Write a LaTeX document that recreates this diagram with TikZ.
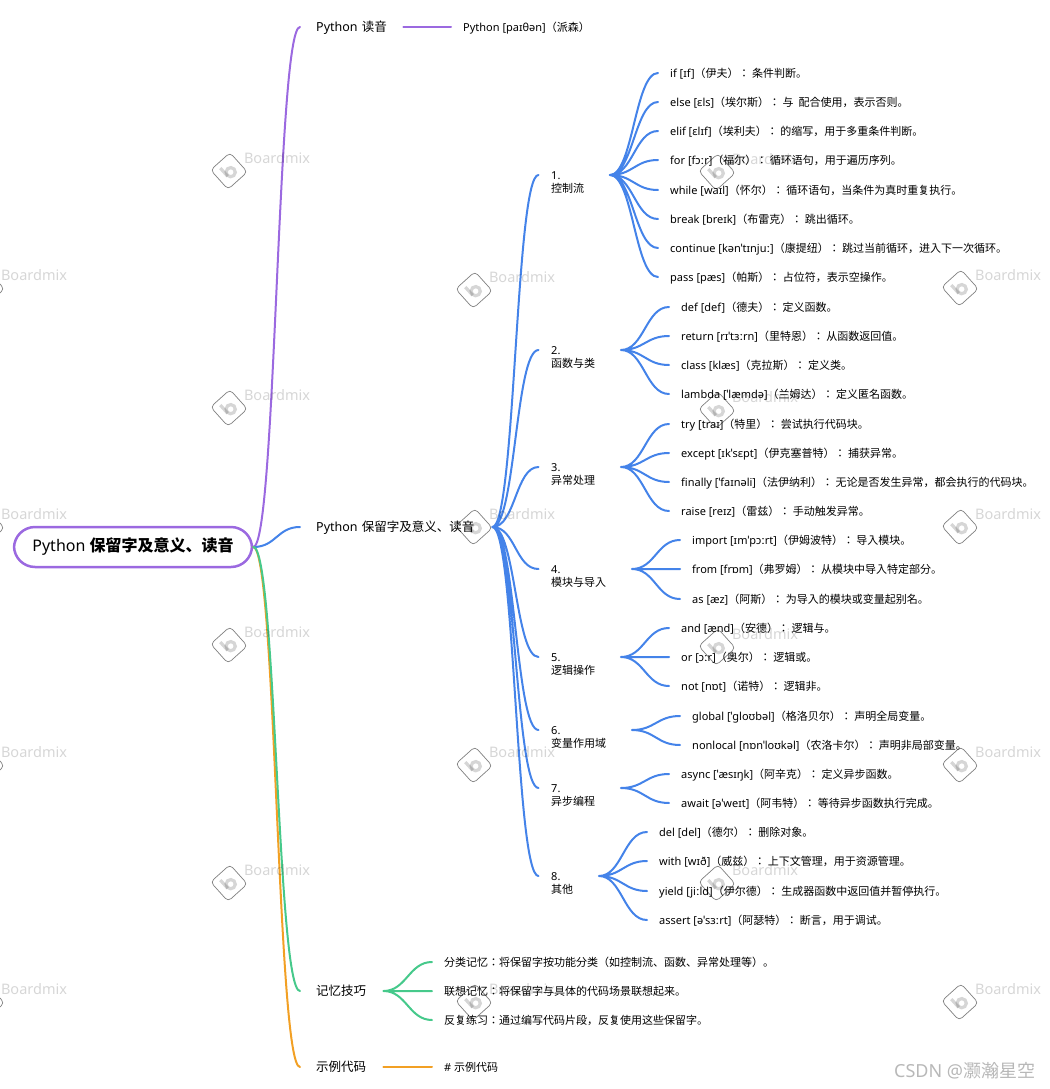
\documentclass[tikz,border=0pt]{standalone}
\usepackage{fontspec}
\setmainfont{Noto Sans}
\newfontfamily\cjk{Noto Sans CJK JP}
\newcommand{\zh}[1]{{\cjk #1}}
\definecolor{linkpurple}{HTML}{9B69E0}
\definecolor{linkblue}{HTML}{4483E9}
\definecolor{linkgreen}{HTML}{46C98B}
\definecolor{linkorange}{HTML}{F2A024}
\tikzset{
  link/.style={line width=2pt,line cap=round,to path={.. controls +(23pt,0) and +(-23pt,0) .. (\tikztotarget)}},
  purplelink/.style={link,draw=linkpurple},
  bluelink/.style={link,draw=linkblue},
  greenlink/.style={link,draw=linkgreen},
  orangelink/.style={link,draw=linkorange},
  topic/.style={anchor=west,inner xsep=16pt,inner ysep=0pt,text height=10.8pt,text depth=1.8pt,font=\fontsize{12.5pt}{15pt}\selectfont},
  group/.style={anchor=west,inner xsep=12.5pt,inner ysep=0pt,text height=10pt,text depth=1.6pt,font=\fontsize{11pt}{13pt}\selectfont},
  leaf/.style={anchor=west,inner xsep=12pt,inner ysep=0pt,text height=10pt,text depth=1.6pt,font=\fontsize{11pt}{13pt}\selectfont},
  wmark/.pic={
    \begin{scope}[rotate=42,opacity=.16]
      \draw[line width=.7pt,rounded corners=4pt,opacity=.5] (-13,-13) rectangle (13,13);
      \draw[line width=3.2pt] (-4.5,-8) -- (-4.5,3);
      \draw[line width=3.2pt] (.5,2) circle (4.6);
      \node[anchor=west,inner sep=0pt,font=\fontsize{14.5pt}{16pt}\selectfont] (-word) at (20,0) {Boardmix};
    \end{scope}
  }
}
\begin{document}
\begin{tikzpicture}[x=1pt,y=-1pt]
  \useasboundingbox (0,0) rectangle (1049,1089);

  \node[draw=linkpurple,line width=2.5pt,rounded corners=21pt,minimum width=238pt,minimum height=40pt,inner sep=0pt,font=\fontsize{16pt}{19pt}\selectfont\bfseries] (root) at (133,547) {Python \zh{保留字及意义、读音}};

  \node[topic,text width=71pt] (reading) at (300,27) {Python \zh{读音}};
  \node[topic,text width=160pt] (keywords) at (300,527) {Python \zh{保留字及意义、读音}};
  \node[topic,text width=51pt] (memory) at (300,991) {\zh{记忆技巧}};
  \node[topic,text width=51pt] (sample) at (300,1067) {\zh{示例代码}};

  \node[leaf] (pyread) at (451,27) {Python [paɪθən]\zh{（派森）}};

  \node[group,text width=46pt] (flow) at (538.5,175) {1. \zh{控制流}};
  \node[group,text width=57pt] (funcs) at (538.5,350) {2. \zh{函数与类}};
  \node[group,text width=57pt] (errors) at (538.5,467) {3. \zh{异常处理}};
  \node[group,text width=68pt] (modules) at (538.5,569) {4. \zh{模块与导入}};
  \node[group,text width=57pt] (logic) at (538.5,657) {5. \zh{逻辑操作}};
  \node[group,text width=68pt] (scoping) at (538.5,730) {6. \zh{变量作用域}};
  \node[group,text width=57pt] (asyncs) at (538.5,788) {7. \zh{异步编程}};
  \node[group,text width=35pt] (others) at (538.5,876) {8. \zh{其他}};

  \node[leaf] (kwif) at (658,73) {if [ɪf]\zh{（伊夫）： 条件判断。}};
  \node[leaf] (kwelse) at (658,102) {else [ɛls]\zh{（埃尔斯）： 与\ \ 配合使用，表示否则。}};
  \node[leaf] (kwelif) at (658,131) {elif [ɛlɪf]\zh{（埃利夫）： 的缩写，用于多重条件判断。}};
  \node[leaf] (kwfor) at (658,160) {for [fɔːr]\zh{（福尔）： 循环语句，用于遍历序列。}};
  \node[leaf] (kwwhile) at (658,190) {while [waɪl]\zh{（怀尔）： 循环语句，当条件为真时重复执行。}};
  \node[leaf] (kwbreak) at (658,219) {break [breɪk]\zh{（布雷克）： 跳出循环。}};
  \node[leaf] (kwcontinue) at (658,248) {continue [kənˈtɪnjuː]\zh{（康提纽）： 跳过当前循环，进入下一次循环。}};
  \node[leaf] (kwpass) at (658,277) {pass [pæs]\zh{（帕斯）： 占位符，表示空操作。}};

  \node[leaf] (kwdef) at (669,307) {def [def]\zh{（德夫）： 定义函数。}};
  \node[leaf] (kwreturn) at (669,336) {return [rɪˈtɜːrn]\zh{（里特恩）： 从函数返回值。}};
  \node[leaf] (kwclass) at (669,365) {class [klæs]\zh{（克拉斯）： 定义类。}};
  \node[leaf] (kwlambda) at (669,394) {lambda [ˈlæmdə]\zh{（兰姆达）： 定义匿名函数。}};

  \node[leaf] (kwtry) at (669,424) {try [traɪ]\zh{（特里）： 尝试执行代码块。}};
  \node[leaf] (kwexcept) at (669,453) {except [ɪkˈsɛpt]\zh{（伊克塞普特）： 捕获异常。}};
  \node[leaf] (kwfinally) at (669,482) {finally [ˈfaɪnəli]\zh{（法伊纳利）： 无论是否发生异常，都会执行的代码块。}};
  \node[leaf] (kwraise) at (669,511) {raise [reɪz]\zh{（雷兹）： 手动触发异常。}};

  \node[leaf] (kwimport) at (680,540) {import [ɪmˈpɔːrt]\zh{（伊姆波特）： 导入模块。}};
  \node[leaf] (kwfrom) at (680,569) {from [frɒm]\zh{（弗罗姆）： 从模块中导入特定部分。}};
  \node[leaf] (kwas) at (680,599) {as [æz]\zh{（阿斯）： 为导入的模块或变量起别名。}};

  \node[leaf] (kwand) at (669,628) {and [ænd]\zh{（安德）： 逻辑与。}};
  \node[leaf] (kwor) at (669,657) {or [ɔːr]\zh{（奥尔）： 逻辑或。}};
  \node[leaf] (kwnot) at (669,686) {not [nɒt]\zh{（诺特）： 逻辑非。}};

  \node[leaf] (kwglobal) at (680,716) {global [ˈɡloʊbəl]\zh{（格洛贝尔）： 声明全局变量。}};
  \node[leaf] (kwnonlocal) at (680,745) {nonlocal [nɒnˈloʊkəl]\zh{（农洛卡尔）： 声明非局部变量。}};

  \node[leaf] (kwasync) at (669,774) {async [ˈæsɪŋk]\zh{（阿辛克）： 定义异步函数。}};
  \node[leaf] (kwawait) at (669,803) {await [əˈweɪt]\zh{（阿韦特）： 等待异步函数执行完成。}};

  \node[leaf] (kwdel) at (647,832) {del [del]\zh{（德尔）： 删除对象。}};
  \node[leaf] (kwwith) at (647,861) {with [wɪð]\zh{（威兹）： 上下文管理，用于资源管理。}};
  \node[leaf] (kwyield) at (647,891) {yield [jiːld]\zh{（伊尔德）： 生成器函数中返回值并暂停执行。}};
  \node[leaf] (kwassert) at (647,920) {assert [əˈsɜːrt]\zh{（阿瑟特）： 断言，用于调试。}};

  \node[leaf] (mem1) at (432,962) {\zh{分类记忆：将保留字按功能分类（如控制流、函数、异常处理等）。}};
  \node[leaf] (mem2) at (432,991) {\zh{联想记忆：将保留字与具体的代码场景联想起来。}};
  \node[leaf] (mem3) at (432,1020) {\zh{反复练习：通过编写代码片段，反复使用这些保留字。}};
  \node[leaf] (code) at (432,1067) {\# \zh{示例代码}};

  \draw[purplelink] (root.east) to (reading.west);
  \draw[purplelink] (reading.east) to (pyread.west);
  \draw[bluelink] (root.east) to (keywords.west);
  \draw[orangelink] (root.east) to (sample.west);
  \draw[greenlink] (root.east) to (memory.west);

  \draw[bluelink] (keywords.east) to (flow.west) (keywords.east) to (funcs.west) (keywords.east) to (errors.west) (keywords.east) to (modules.west);
  \draw[bluelink] (keywords.east) to (logic.west) (keywords.east) to (scoping.west) (keywords.east) to (asyncs.west) (keywords.east) to (others.west);

  \draw[bluelink] (flow.east) to (kwif.west) (flow.east) to (kwelse.west) (flow.east) to (kwelif.west) (flow.east) to (kwfor.west);
  \draw[bluelink] (flow.east) to (kwwhile.west) (flow.east) to (kwbreak.west) (flow.east) to (kwcontinue.west) (flow.east) to (kwpass.west);
  \draw[bluelink] (funcs.east) to (kwdef.west) (funcs.east) to (kwreturn.west) (funcs.east) to (kwclass.west) (funcs.east) to (kwlambda.west);
  \draw[bluelink] (errors.east) to (kwtry.west) (errors.east) to (kwexcept.west) (errors.east) to (kwfinally.west) (errors.east) to (kwraise.west);
  \draw[bluelink] (modules.east) to (kwimport.west) (modules.east) to (kwfrom.west) (modules.east) to (kwas.west);
  \draw[bluelink] (logic.east) to (kwand.west) (logic.east) to (kwor.west) (logic.east) to (kwnot.west);
  \draw[bluelink] (scoping.east) to (kwglobal.west) (scoping.east) to (kwnonlocal.west);
  \draw[bluelink] (asyncs.east) to (kwasync.west) (asyncs.east) to (kwawait.west);
  \draw[bluelink] (others.east) to (kwdel.west) (others.east) to (kwwith.west) (others.east) to (kwyield.west) (others.east) to (kwassert.west);

  \draw[greenlink] (memory.east) to (mem1.west) (memory.east) to (mem2.west) (memory.east) to (mem3.west);
  \draw[orangelink] (sample.east) to (code.west);

  % watermark
  \pic (wa) at (-14,288) {wmark}; \pic (wb) at (-14,527) {wmark}; \pic (wc) at (-14,765) {wmark}; \pic (wd) at (-14,1002) {wmark};
  \pic (we) at (229,171) {wmark}; \pic (wf) at (229,408) {wmark}; \pic (wg) at (229,645) {wmark}; \pic (wh) at (229,883) {wmark}; \pic (wi) at (229,1120) {wmark};
  \pic (wj) at (474,290) {wmark}; \pic (wk) at (474,527) {wmark}; \pic (wl) at (474,765) {wmark}; \pic (wm) at (474,1002) {wmark};
  \pic (wn) at (717,172) {wmark}; \pic (wo) at (717,410) {wmark}; \pic (wp) at (717,647) {wmark}; \pic (wq) at (717,883) {wmark}; \pic (wr) at (717,1120) {wmark};
  \pic (ws) at (960,288) {wmark}; \pic (wt) at (960,527) {wmark}; \pic (wu) at (960,765) {wmark}; \pic (wv) at (960,1002) {wmark};
  \node[anchor=west,inner sep=0pt,text=black!28,font=\fontsize{18pt}{21pt}\selectfont] (csdn) at (894,1071) {CSDN @\zh{灏瀚星空}};
\end{tikzpicture}
\end{document}
